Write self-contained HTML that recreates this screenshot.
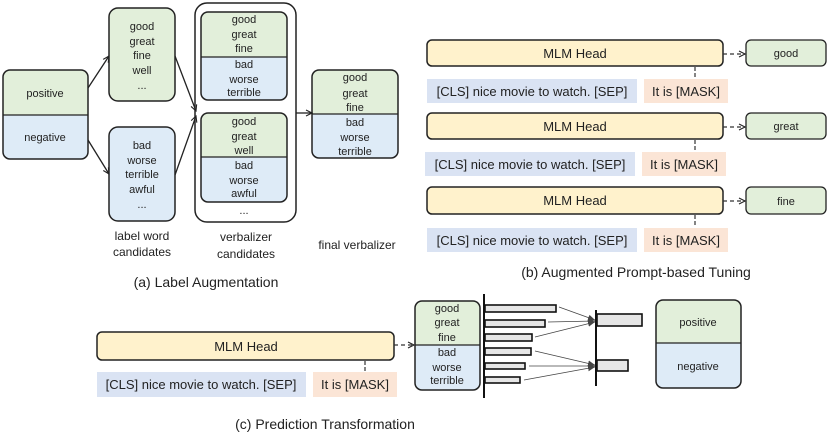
<!DOCTYPE html>
<html><head><meta charset="utf-8"><style>
html,body{margin:0;padding:0;background:#fff;}
svg{display:block;font-family:"Liberation Sans",sans-serif;}
</style></head><body>
<svg width="831" height="433" viewBox="0 0 831 433" xmlns="http://www.w3.org/2000/svg">
<defs>
<marker id="ah" markerWidth="8" markerHeight="8" refX="7" refY="4" orient="auto" markerUnits="userSpaceOnUse">
<path d="M1,1 L7,4 L1,7" fill="none" stroke="#222" stroke-width="1.1"/></marker>
<marker id="af" markerWidth="8" markerHeight="8" refX="7" refY="4" orient="auto" markerUnits="userSpaceOnUse">
<path d="M0,1 L7,4 L0,7 z" fill="#444"/></marker>
<clipPath id="c1"><rect x="3" y="70" width="85" height="89" rx="7"/></clipPath>
<clipPath id="c2"><rect x="201" y="12" width="86" height="88" rx="7"/></clipPath>
<clipPath id="c3"><rect x="201" y="113" width="86" height="89" rx="7"/></clipPath>
<clipPath id="c4"><rect x="312" y="70" width="86" height="88" rx="7"/></clipPath>
<clipPath id="c5"><rect x="415" y="301" width="65" height="89" rx="7"/></clipPath>
<clipPath id="c6"><rect x="656" y="300" width="85" height="88" rx="7"/></clipPath>
</defs>
<g font-size="11" fill="#222" text-anchor="middle">
<!-- (a) -->
<g clip-path="url(#c1)"><rect x="3" y="70" width="85" height="45" fill="#e2efda"/><rect x="3" y="115" width="85" height="44" fill="#deebf7"/></g>
<line x1="3" y1="115" x2="88" y2="115" stroke="#222" stroke-width="1.2"/>
<rect x="3" y="70" width="85" height="89" rx="7" fill="none" stroke="#222" stroke-width="1.5"/>
<text x="45" y="97">positive</text><text x="45" y="141">negative</text>

<rect x="109" y="8" width="66" height="93" rx="9" fill="#e2efda" stroke="#222" stroke-width="1.5"/>
<text x="142" y="30">good</text><text x="142" y="45">great</text><text x="142" y="59">fine</text><text x="142" y="74">well</text><text x="142" y="89">...</text>
<rect x="109" y="127" width="66" height="94" rx="9" fill="#deebf7" stroke="#222" stroke-width="1.5"/>
<text x="142" y="149">bad</text><text x="142" y="164">worse</text><text x="142" y="178">terrible</text><text x="142" y="193">awful</text><text x="142" y="208">...</text>

<rect x="195" y="3" width="101" height="219" rx="12" fill="none" stroke="#222" stroke-width="1.5"/>
<g clip-path="url(#c2)"><rect x="201" y="12" width="86" height="45" fill="#e2efda"/><rect x="201" y="57" width="86" height="43" fill="#deebf7"/></g>
<line x1="201" y1="57" x2="287" y2="57" stroke="#222" stroke-width="1.2"/>
<rect x="201" y="12" width="86" height="88" rx="7" fill="none" stroke="#222" stroke-width="1.5"/>
<text x="244" y="23">good</text><text x="244" y="38">great</text><text x="244" y="52">fine</text><text x="244" y="68">bad</text><text x="244" y="83">worse</text><text x="244" y="96">terrible</text>
<g clip-path="url(#c3)"><rect x="201" y="113" width="86" height="44" fill="#e2efda"/><rect x="201" y="157" width="86" height="45" fill="#deebf7"/></g>
<line x1="201" y1="157" x2="287" y2="157" stroke="#222" stroke-width="1.2"/>
<rect x="201" y="113" width="86" height="89" rx="7" fill="none" stroke="#222" stroke-width="1.5"/>
<text x="244" y="125">good</text><text x="244" y="140">great</text><text x="244" y="154">well</text><text x="244" y="169">bad</text><text x="244" y="184">worse</text><text x="244" y="197">awful</text>
<text x="244" y="214">...</text>

<g clip-path="url(#c4)"><rect x="312" y="70" width="86" height="44" fill="#e2efda"/><rect x="312" y="114" width="86" height="44" fill="#deebf7"/></g>
<line x1="312" y1="114" x2="398" y2="114" stroke="#222" stroke-width="1.2"/>
<rect x="312" y="70" width="86" height="88" rx="7" fill="none" stroke="#222" stroke-width="1.5"/>
<text x="355" y="81">good</text><text x="355" y="97">great</text><text x="355" y="111">fine</text><text x="355" y="126">bad</text><text x="355" y="141">worse</text><text x="355" y="155">terrible</text>

<g stroke="#222" stroke-width="1.3" fill="none" marker-end="url(#ah)">
<line x1="88" y1="88" x2="109" y2="56"/><line x1="88" y1="140" x2="109" y2="174"/>
<line x1="175" y1="56" x2="196" y2="111"/><line x1="175" y1="175" x2="196" y2="116"/>
<line x1="296" y1="113" x2="312" y2="113"/>
</g>
<text x="142" y="240" font-size="12">label word</text><text x="142" y="256" font-size="12">candidates</text>
<text x="246" y="241" font-size="12">verbalizer</text><text x="246" y="258" font-size="12">candidates</text>
<text x="357" y="249" font-size="12">final verbalizer</text>
<text x="206" y="287" font-size="14">(a) Label Augmentation</text>

<!-- (b) -->
<g font-size="13">
<rect x="427" y="40" width="296" height="26" rx="5" fill="#fff2cc" stroke="#222" stroke-width="1.5"/><text x="575" y="58">MLM Head</text>
<rect x="746" y="40" width="80" height="26" rx="5" fill="#e2efda" stroke="#222" stroke-width="1.3"/><text x="786" y="57" font-size="11">good</text>
<line x1="723" y1="54" x2="745" y2="54" stroke="#333" stroke-width="1.2" stroke-dasharray="4,3" marker-end="url(#ah)"/>
<line x1="695" y1="67" x2="695" y2="78" stroke="#333" stroke-width="1.2" stroke-dasharray="4,2"/>
<rect x="427" y="79" width="210" height="24" fill="#dae3f3"/><text x="532" y="96">[CLS] nice movie to watch. [SEP]</text>
<rect x="644" y="79" width="84" height="24" fill="#fbe5d6"/><text x="686" y="96">It is [MASK]</text>

<rect x="427" y="113" width="296" height="26" rx="5" fill="#fff2cc" stroke="#222" stroke-width="1.5"/><text x="575" y="131">MLM Head</text>
<rect x="746" y="113" width="80" height="26" rx="5" fill="#e2efda" stroke="#222" stroke-width="1.3"/><text x="786" y="130" font-size="11">great</text>
<line x1="723" y1="127" x2="745" y2="127" stroke="#333" stroke-width="1.2" stroke-dasharray="4,3" marker-end="url(#ah)"/>
<line x1="695" y1="140" x2="695" y2="151" stroke="#333" stroke-width="1.2" stroke-dasharray="4,2"/>
<rect x="425" y="152" width="210" height="24" fill="#dae3f3"/><text x="530" y="169">[CLS] nice movie to watch. [SEP]</text>
<rect x="642" y="152" width="84" height="24" fill="#fbe5d6"/><text x="684" y="169">It is [MASK]</text>

<rect x="427" y="187" width="296" height="27" rx="5" fill="#fff2cc" stroke="#222" stroke-width="1.5"/><text x="575" y="205">MLM Head</text>
<rect x="746" y="187" width="80" height="27" rx="5" fill="#e2efda" stroke="#222" stroke-width="1.3"/><text x="786" y="205" font-size="11">fine</text>
<line x1="723" y1="201" x2="745" y2="201" stroke="#333" stroke-width="1.2" stroke-dasharray="4,3" marker-end="url(#ah)"/>
<line x1="695" y1="215" x2="695" y2="227" stroke="#333" stroke-width="1.2" stroke-dasharray="4,2"/>
<rect x="427" y="228" width="210" height="24" fill="#dae3f3"/><text x="532" y="245">[CLS] nice movie to watch. [SEP]</text>
<rect x="644" y="228" width="84" height="24" fill="#fbe5d6"/><text x="686" y="245">It is [MASK]</text>
</g>
<text x="636" y="277" font-size="14">(b) Augmented Prompt-based Tuning</text>

<!-- (c) -->
<g font-size="13">
<rect x="97" y="332" width="297" height="28" rx="5" fill="#fff2cc" stroke="#222" stroke-width="1.5"/><text x="246" y="351">MLM Head</text>
<line x1="365" y1="361" x2="365" y2="371" stroke="#333" stroke-width="1.2" stroke-dasharray="4,2"/>
<rect x="97" y="372" width="209" height="25" fill="#dae3f3"/><text x="201" y="389">[CLS] nice movie to watch. [SEP]</text>
<rect x="313" y="372" width="84" height="25" fill="#fbe5d6"/><text x="355" y="389">It is [MASK]</text>
</g>
<line x1="394" y1="345" x2="414" y2="345" stroke="#333" stroke-width="1.2" stroke-dasharray="4,3" marker-end="url(#ah)"/>
<g clip-path="url(#c5)"><rect x="415" y="301" width="65" height="44" fill="#e2efda"/><rect x="415" y="345" width="65" height="45" fill="#deebf7"/></g>
<line x1="415" y1="345" x2="480" y2="345" stroke="#222" stroke-width="1.2"/>
<rect x="415" y="301" width="65" height="89" rx="7" fill="none" stroke="#222" stroke-width="1.5"/>
<text x="447" y="312">good</text><text x="447" y="326">great</text><text x="447" y="341">fine</text><text x="447" y="356">bad</text><text x="447" y="371">worse</text><text x="447" y="384">terrible</text>
<line x1="484" y1="294" x2="484" y2="398" stroke="#111" stroke-width="2"/>
<g fill="#e6e6e6" stroke="#111" stroke-width="1.6">
<rect x="485" y="305" width="71" height="7"/><rect x="485" y="320" width="60" height="7"/><rect x="485" y="334" width="47" height="7"/>
<rect x="485" y="348" width="46" height="7"/><rect x="485" y="363" width="40" height="6"/><rect x="485" y="377" width="35" height="6"/>
<rect x="597" y="314" width="45" height="12"/><rect x="597" y="360" width="31" height="11"/>
</g>
<line x1="596" y1="310" x2="596" y2="386" stroke="#111" stroke-width="2"/>
<g stroke="#444" stroke-width="0.8" marker-end="url(#af)">
<line x1="559" y1="307" x2="595" y2="320"/><line x1="548" y1="322" x2="595" y2="321"/><line x1="535" y1="337" x2="595" y2="322"/>
<line x1="535" y1="351" x2="595" y2="365"/><line x1="529" y1="366" x2="595" y2="366"/><line x1="524" y1="380" x2="595" y2="367"/>
</g>
<g clip-path="url(#c6)"><rect x="656" y="300" width="85" height="43" fill="#e2efda"/><rect x="656" y="343" width="85" height="45" fill="#deebf7"/></g>
<line x1="656" y1="343" x2="741" y2="343" stroke="#222" stroke-width="1.2"/>
<rect x="656" y="300" width="85" height="88" rx="7" fill="none" stroke="#222" stroke-width="1.5"/>
<text x="698" y="326">positive</text><text x="698" y="370">negative</text>
<text x="325" y="429" font-size="14">(c) Prediction Transformation</text>
</g>
</svg>
</body></html>
